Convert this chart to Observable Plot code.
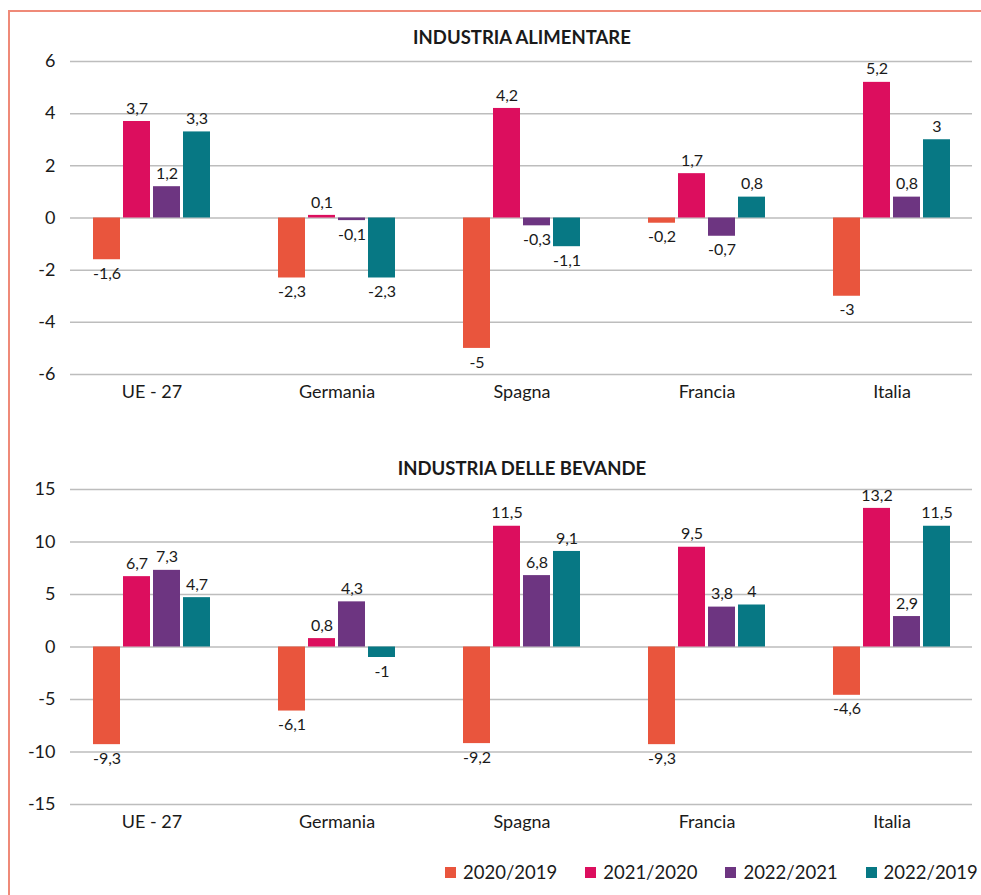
<!DOCTYPE html>
<html><head><meta charset="utf-8">
<script src="https://cdn.jsdelivr.net/npm/d3@7"></script>
<script src="https://cdn.jsdelivr.net/npm/@observablehq/plot@0.6"></script>
<style>
body{margin:0;background:#fff;font-family:Lato,sans-serif;color:#1a1a1a;}
#wrap{position:relative;width:981px;height:895px;overflow:hidden;background:#fff;}
#border{position:absolute;left:8px;top:10px;width:990px;height:900px;border-left:2px solid #ef8a78;border-top:2px solid #ef8a78;}
.chart{position:absolute;left:0;}
.title{position:absolute;left:0;width:1044px;text-align:center;font-weight:bold;font-size:18.5px;line-height:20px;}
#legend{position:absolute;top:862px;left:445px;display:flex;font-size:18.5px;line-height:20px;}
#legend .item{display:flex;align-items:center;margin-right:28px;}
#legend .sw{width:11px;height:11px;margin-right:7px;}
</style></head>
<body><div id="wrap"><div id="border"></div></div>
<script>
const countries = ["UE - 27", "Germania", "Spagna", "Francia", "Italia"];
const periods = ["2020/2019", "2021/2020", "2022/2021", "2022/2019"];
const colors = ["#e9553d", "#dc0e5e", "#6d3581", "#077884"];

const alim_2020_2019 = [-1.6, -2.3, -5, -0.2, -3];
const alim_2021_2020 = [3.7, 0.1, 4.2, 1.7, 5.2];
const alim_2022_2021 = [1.2, -0.1, -0.3, -0.7, 0.8];
const alim_2022_2019 = [3.3, -2.3, -1.1, 0.8, 3];

const bev_2020_2019 = [-9.3, -6.1, -9.2, -9.3, -4.6];
const bev_2021_2020 = [6.7, 0.8, 11.5, 9.5, 13.2];
const bev_2022_2021 = [7.3, 4.3, 6.8, 3.8, 2.9];
const bev_2022_2019 = [4.7, -1, 9.1, 4, 11.5];

const alimTicks = [-6, -4, -2, 0, 2, 4, 6];
const bevTicks = [-15, -10, -5, 0, 5, 10, 15];

function rowsOf(series) {
  const out = [];
  series.forEach((vals, k) => vals.forEach((v, i) => out.push({country: countries[i], period: periods[k], k, value: v})));
  return out;
}
const fmt = d => String(d.value).replace(".", ",");

function chart(rows, ticks, height, marginTop, marginBottom) {
  const marks = [
    Plot.gridY(ticks, {stroke: "#bdbdbd", strokeOpacity: 1, strokeWidth: 1.5}),
    Plot.axisY(ticks, {tickSize: 0, tickPadding: 15, tickFormat: d => String(d), fontSize: 18, fill: "#1a1a1a", label: null}),
    Plot.axisX({tickSize: 0, tickPadding: 11, fontSize: 18, fill: "#1a1a1a", label: null})
  ];
  periods.forEach((p, k) => {
    const sub = rows.filter(d => d.k === k);
    marks.push(Plot.barY(sub, {x: "country", y: "value", fill: "period", insetLeft: 34 + 30 * k, insetRight: 124 - 30 * k}));
    marks.push(Plot.text(sub.filter(d => d.value >= 0), {x: "country", y: "value", text: fmt, dx: -45 + 30 * k, dy: -13, fontSize: 16, fill: "#1a1a1a"}));
    marks.push(Plot.text(sub.filter(d => d.value < 0), {x: "country", y: "value", text: fmt, dx: -45 + 30 * k, dy: 14, fontSize: 16, fill: "#1a1a1a"}));
  });
  return Plot.plot({
    width: 981, height, marginLeft: 70, marginRight: 9, marginTop, marginBottom,
    style: {fontFamily: "Lato, sans-serif", background: "transparent", overflow: "visible"},
    x: {domain: countries, range: [59, 984], padding: 0, axis: null, label: null},
    y: {domain: [ticks[0], ticks[ticks.length - 1]], axis: null, label: null},
    color: {domain: periods, range: colors},
    marks
  });
}

const wrap = document.getElementById("wrap");

const t1 = document.createElement("div");
t1.className = "title"; t1.style.top = "27px"; t1.textContent = "INDUSTRIA ALIMENTARE";
wrap.appendChild(t1);
const c1 = chart(rowsOf([alim_2020_2019, alim_2021_2020, alim_2022_2021, alim_2022_2019]), alimTicks, 410, 61, 36);
c1.classList.add("chart"); c1.style.top = "0px";
wrap.appendChild(c1);

const t2 = document.createElement("div");
t2.className = "title"; t2.style.top = "458px"; t2.textContent = "INDUSTRIA DELLE BEVANDE";
wrap.appendChild(t2);
const c2 = chart(rowsOf([bev_2020_2019, bev_2021_2020, bev_2022_2021, bev_2022_2019]), bevTicks, 420, 69, 36);
c2.classList.add("chart"); c2.style.top = "420px";
wrap.appendChild(c2);

const lg = document.createElement("div");
lg.id = "legend";
periods.forEach((p, k) => {
  const it = document.createElement("div"); it.className = "item";
  const sw = document.createElement("div"); sw.className = "sw"; sw.style.background = colors[k];
  const tx = document.createElement("span"); tx.textContent = p;
  it.appendChild(sw); it.appendChild(tx); lg.appendChild(it);
});
wrap.appendChild(lg);
</script>
</body></html>
